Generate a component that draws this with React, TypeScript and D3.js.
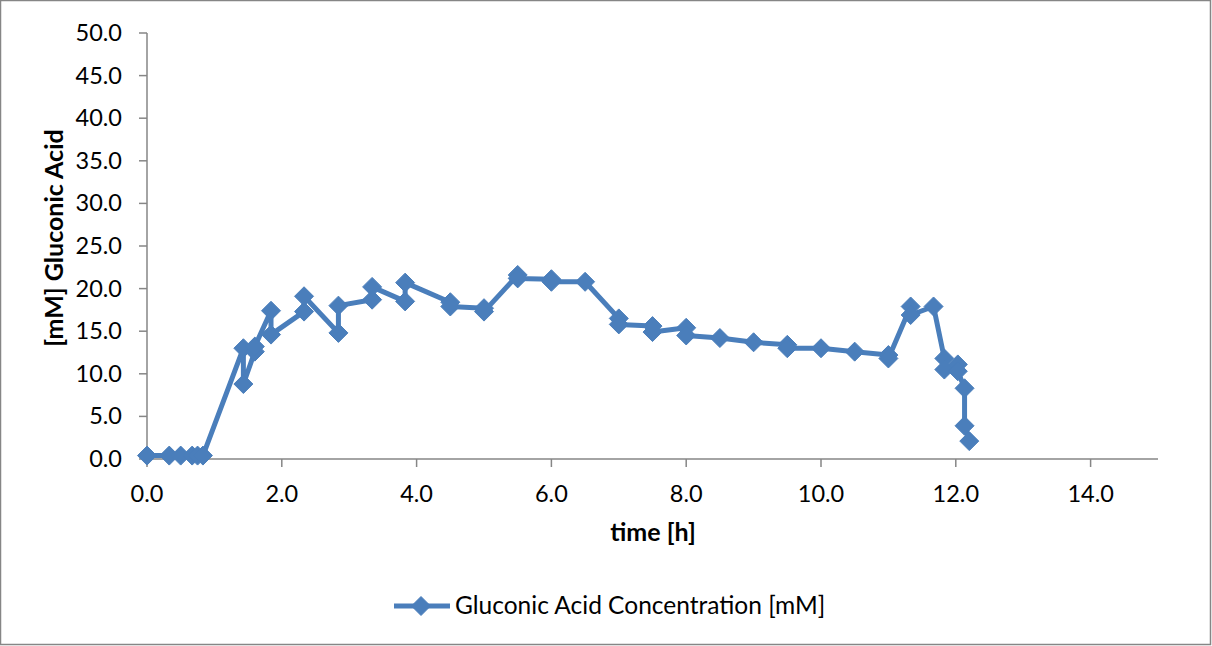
import React from "react";
import * as d3 from "d3";

const times = [0, 0.33, 0.5, 0.67, 0.75, 0.83, 1.43, 1.43, 1.6, 1.6, 1.84, 1.84, 2.33, 2.33, 2.84, 2.84, 3.34, 3.34, 3.83, 3.83, 4.5, 4.5, 5.0, 5.0, 5.5, 5.5, 6.0, 6.0, 6.5, 7.0, 7.0, 7.5, 7.5, 8.0, 8.0, 8.5, 9.0, 9.5, 9.5, 10.0, 10.5, 11.0, 11.0, 11.33, 11.33, 11.67, 11.83, 11.83, 12.03, 12.03, 12.13, 12.13, 12.2];
const values = [0.4, 0.4, 0.4, 0.4, 0.4, 0.4, 13.0, 8.8, 12.6, 13.2, 17.4, 14.6, 17.3, 19.1, 14.8, 18.0, 18.7, 20.2, 18.5, 20.7, 18.4, 17.9, 17.7, 17.3, 21.6, 21.2, 21.1, 20.8, 20.8, 16.5, 15.8, 15.6, 14.9, 15.4, 14.5, 14.2, 13.7, 13.4, 13.0, 13.0, 12.6, 12.2, 11.8, 17.9, 16.9, 17.9, 11.8, 10.5, 11.1, 10.3, 8.3, 3.9, 2.1];
const xTicks = [0, 2, 4, 6, 8, 10, 12, 14];
const yTicks = [0, 5, 10, 15, 20, 25, 30, 35, 40, 45, 50];
const seriesName = "Gluconic Acid Concentration [mM]";
const xTitle = "time [h]";
const yTitle = "[mM] Gluconic Acid";

const W = 1212;
const H = 646;
const left = 147;
const right = 1158;
const top = 33;
const bottom = 459;
const COLOR = "#4a7ebb";
const AXIS = "#868686";
const FONT = "Lato, 'DejaVu Sans', sans-serif";
const FS = 23.5;
const FSL = 24.5;
const FSB = 25;

const diamond = (cx: number, cy: number, r: number) =>
  `M${cx},${cy - r}L${cx + r},${cy}L${cx},${cy + r}L${cx - r},${cy}Z`;

export default function App() {
  const x = d3.scaleLinear().domain([0, 15]).range([left, right]);
  const y = d3.scaleLinear().domain([0, 50]).range([bottom, top]);
  const pts = times.map((t, i) => [t, values[i]] as [number, number]);
  const line = d3
    .line<[number, number]>()
    .x((d) => x(d[0]))
    .y((d) => y(d[1]));
  const fmt = d3.format(".1f");
  const r = 9.5;

  return (
    <svg
      width={W}
      height={H}
      style={{ position: "absolute", left: 0, top: 0, background: "#fff" }}
      fontFamily={FONT}
    >
      <rect x={0.5} y={0.5} width={W - 2} height={H - 2} fill="#fff" stroke={AXIS} strokeWidth={1.5} />
      {/* y axis */}
      <line x1={left} x2={left} y1={top} y2={bottom} stroke={AXIS} strokeWidth={1.5} />
      {yTicks.map((t) => (
        <g key={"y" + t}>
          <line x1={left - 8} x2={left} y1={y(t)} y2={y(t)} stroke={AXIS} strokeWidth={1.5} />
          <text x={122} y={y(t) + 8} textAnchor="end" fontSize={FS} fill="#000">
            {fmt(t)}
          </text>
        </g>
      ))}
      {/* x axis */}
      <line x1={left} x2={right} y1={bottom} y2={bottom} stroke={AXIS} strokeWidth={1.5} />
      {xTicks.map((t) => (
        <g key={"x" + t}>
          <line x1={x(t)} x2={x(t)} y1={bottom} y2={bottom + 8} stroke={AXIS} strokeWidth={1.5} />
          <text x={x(t)} y={502} textAnchor="middle" fontSize={FS} fill="#000">
            {fmt(t)}
          </text>
        </g>
      ))}
      <text x={653} y={541} textAnchor="middle" fontSize={FSB} fontWeight="bold" fill="#000">
        {xTitle}
      </text>
      <text
        transform={`translate(63,238) rotate(-90)`}
        textAnchor="middle"
        fontSize={FSB}
        fontWeight="bold"
        fill="#000"
      >
        {yTitle}
      </text>
      {/* series */}
      <path d={line(pts) || ""} fill="none" stroke={COLOR} strokeWidth={5} strokeLinejoin="round" />
      {pts.map((p, i) => (
        <path key={"m" + i} d={diamond(x(p[0]), y(p[1]), r)} fill={COLOR} stroke={COLOR} strokeWidth={1} />
      ))}
      {/* legend */}
      <line x1={394} x2={450} y1={606} y2={606} stroke={COLOR} strokeWidth={5} />
      <path d={diamond(421, 606, r)} fill={COLOR} stroke={COLOR} strokeWidth={1} />
      <text x={455} y={614} fontSize={FSL} fill="#000">
        {seriesName}
      </text>
    </svg>
  );
}
